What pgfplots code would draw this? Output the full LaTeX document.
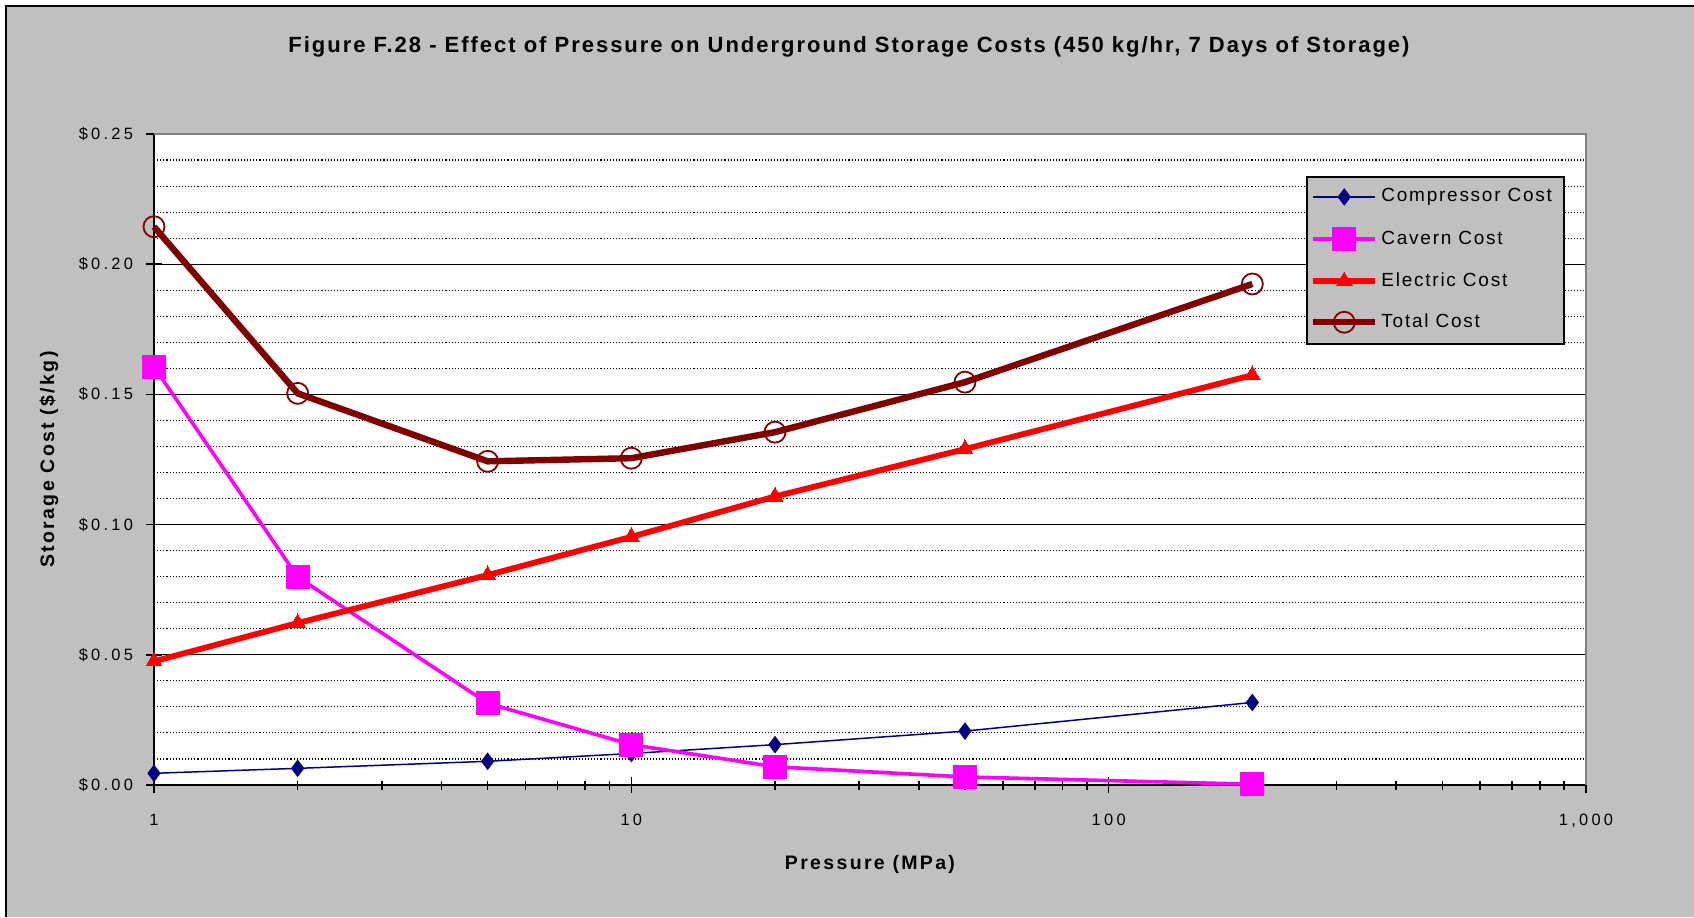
\documentclass[border=0pt]{standalone}
\usepackage{fontspec}
\setmainfont{Liberation Sans}
\newfontfamily\tickfont[LetterSpace=20]{Liberation Sans}
\newfontfamily\legfont[LetterSpace=9.2]{Liberation Sans}
\newfontfamily\labfont[LetterSpace=12]{Liberation Sans}
\newfontfamily\titfont[LetterSpace=9]{Liberation Sans}
\usepackage{pgfplots}
\pgfplotsset{compat=1.18}
\definecolor{chartgray}{RGB}{192,192,192}
\definecolor{edgegray}{RGB}{128,128,128}
\definecolor{cnavy}{RGB}{0,0,128}
\definecolor{cmag}{RGB}{255,0,255}
\definecolor{cred}{RGB}{255,0,0}
\definecolor{cdred}{RGB}{128,0,0}
\begin{document}
\begin{tikzpicture}
\useasboundingbox (0,0) rectangle (847pt,458.5pt);
\fill[white] (0,0) rectangle (847pt,458.5pt);
\fill[chartgray] (3pt,0) rectangle (847pt,455.5pt);
\draw[line width=1pt] (3pt,0) -- (3pt,455.5pt) -- (847pt,455.5pt);
\node[font=\titfont\bfseries\fontsize{11}{13}\selectfont, anchor=base, inner sep=0pt] at (424.5pt,432.3pt)
  {Figure F.28 - Effect of Pressure on Underground Storage Costs (450 kg/hr, 7 Days of Storage)};
\begin{axis}[
  at={(77pt,66pt)}, anchor=south west,
  scale only axis, width=716pt, height=325.5pt,
  xmode=log, xmin=1, xmax=1000, ymin=0, ymax=0.25,
  clip=false,
  axis background/.style={fill=white},
  axis lines*=left,
  axis line style={line width=1pt, black},
  xtick={1,10,100,1000}, xticklabels={1,10,100,{1,000}},
  minor xtick={2,3,4,5,6,7,8,9,20,30,40,50,60,70,80,90,200,300,400,500,600,700,800,900},
  ytick={0,0.05,0.1,0.15,0.2,0.25},
  yticklabels={\$0.00,\$0.05,\$0.10,\$0.15,\$0.20,\$0.25},
  minor ytick={0.01,0.02,0.03,0.04,0.06,0.07,0.08,0.09,0.11,0.12,0.13,0.14,0.16,0.17,0.18,0.19,0.21,0.22,0.23,0.24},
  ymajorgrids, yminorgrids,
  major grid style={black, line width=0.65pt},
  minor grid style={black, line width=0.55pt, dash pattern=on 0.55pt off 1pt},
  tick align=center, major tick length=8pt, minor tick length=4.5pt,
  tick style={black, line width=0.8pt},
  minor y tick style={draw=none},
  ticklabel style={font=\tickfont\fontsize{8.2}{10}\selectfont},
  xticklabel style={yshift=-7pt},
  yticklabel style={xshift=-3pt},
  xlabel={Pressure (MPa)}, ylabel={Storage Cost (\$/kg)},
  label style={font=\labfont\bfseries\fontsize{9.75}{12}\selectfont},
  xlabel style={at={(axis description cs:0.5,-0.1228)}, anchor=center},
  ylabel style={at={(axis description cs:-0.0733,0.5)}, anchor=center, rotate=0},
  legend style={at={(rel axis cs:0.8045,0.9355)}, anchor=north west, fill=chartgray, draw=black, line width=1pt,
    inner xsep=1.5pt, inner ysep=5.5pt, row sep=10.76pt,
    /tikz/every odd column/.append style={column sep=1.5pt},
    nodes={font=\legfont\fontsize{9.5}{11}\selectfont, inner sep=0pt, text height=7pt, text depth=2pt, anchor=west}},
  legend cell align=left,
  legend image code/.code={\draw[mark repeat=2,mark phase=2] plot coordinates {(0pt,0pt) (15.5pt,0pt) (31pt,0pt)};},
]
\addplot[color=cnavy, line width=0.75pt, mark=diamond*, mark size=4pt, mark options={fill=cnavy, line width=0.5pt}]
  coordinates {(1,0.0045)(2,0.0064)(5,0.0091)(10,0.0121)(20,0.0155)(50,0.0207)(200,0.0317)};
\addlegendentry{Compressor Cost\kern4.5pt}
\addplot[color=cmag, line width=1.8pt, mark=square*, mark size=5.75pt, mark options={fill=cmag, line width=0pt}]
  coordinates {(1,0.1606)(2,0.0799)(5,0.0314)(10,0.0155)(20,0.0070)(50,0.0031)(200,0.0003)};
\addlegendentry{Cavern Cost}
\addplot[color=cred, line width=2.9pt, mark=triangle*, mark size=4.6pt, mark options={fill=cred, line width=0pt}]
  coordinates {(1,0.0475)(2,0.0622)(5,0.0806)(10,0.0953)(20,0.1108)(50,0.1290)(200,0.1574)};
\addlegendentry{Electric Cost}
\addplot[color=cdred, line width=3.2pt, mark=o, mark size=5.25pt, mark options={line width=0.9pt}]
  coordinates {(1,0.2144)(2,0.1504)(5,0.1243)(10,0.1255)(20,0.1355)(50,0.1547)(200,0.1924)};
\addlegendentry{Total Cost}
\draw[edgegray, line width=1pt] (rel axis cs:0,1) -- (rel axis cs:1,1) -- (rel axis cs:1,0);
\end{axis}
\end{tikzpicture}
\end{document}
